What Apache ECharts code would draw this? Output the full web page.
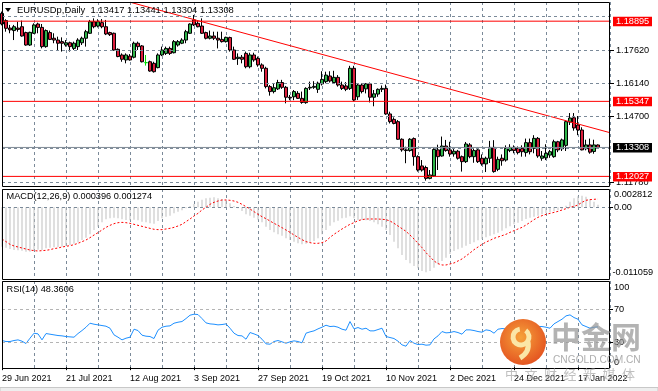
<!DOCTYPE html>
<html><head><meta charset="utf-8">
<script src="https://cdn.jsdelivr.net/npm/echarts@6/dist/echarts.min.js"></script>
<style>html,body{margin:0;padding:0;background:#fff}#c{width:658px;height:391px}</style>
</head><body><div id="c"></div>
<script>
// ---------------- DATA ----------------
const chartTitle = 'EURUSDp,Daily';
const lastQuote = ['1.13417', '1.13441', '1.13304', '1.13308'];
const macdTitle = 'MACD(12,26,9) 0.000396 0.001274';
const rsiTitle = 'RSI(14) 48.3606';
const dateTicks = ['29 Jun 2021','21 Jul 2021','12 Aug 2021','3 Sep 2021','27 Sep 2021','19 Oct 2021','10 Nov 2021','2 Dec 2021','24 Dec 2021','17 Jan 2022'];

const opens = [1.1924,1.1892,1.1859,1.1848,1.1859,1.1865,1.1839,1.1784,1.1836,1.1877,
1.1862,1.1777,1.1839,1.1814,1.1806,1.1799,1.1784,1.1794,1.1769,1.1777,
1.1794,1.1814,1.1836,1.1887,1.1868,1.1883,1.1865,1.1839,1.1836,1.1765,
1.1740,1.1718,1.1735,1.1730,1.1792,1.1780,1.1706,1.1710,1.1703,1.1684,
1.1740,1.1747,1.1769,1.1750,1.1784,1.1792,1.1806,1.1836,1.1895,1.1880,
1.1868,1.1839,1.1814,1.1824,1.1814,1.1809,1.1799,1.1817,1.1762,1.1724,
1.1730,1.1747,1.1688,1.1740,1.1725,1.1696,1.1681,1.1600,1.1578,1.1590,
1.1618,1.1597,1.1553,1.1555,1.1570,1.1548,1.1529,1.1594,1.1597,1.1588,
1.1612,1.1622,1.1647,1.1618,1.1641,1.1607,1.1603,1.1592,1.1681,1.1555,
1.1607,1.1590,1.1612,1.1553,1.1567,1.1588,1.1592,1.1479,1.1455,1.1445,
1.1367,1.1320,1.1317,1.1370,1.1290,1.1249,1.1242,1.1194,1.1205,1.1320,
1.1293,1.1337,1.1320,1.1302,1.1314,1.1290,1.1268,1.1342,1.1290,1.1320,
1.1283,1.1258,1.1283,1.1331,1.1234,1.1283,1.1275,1.1317,1.1331,1.1327,
1.1327,1.1308,1.1352,1.1327,1.1371,1.1283,1.1285,1.1297,1.1290,1.1356,
1.1325,1.1340,1.1443,1.1462,1.1430,1.1408,1.1325,1.1342,1.1313,1.13417];
const closes = [1.1877,1.1858,1.1851,1.1865,1.1853,1.1824,1.1784,1.1840,1.1873,1.1862,
1.1777,1.1848,1.1809,1.1806,1.1792,1.1792,1.1794,1.1777,1.1792,1.1806,
1.1814,1.1843,1.1887,1.1865,1.1887,1.1865,1.1833,1.1830,1.1762,1.1733,
1.1721,1.1740,1.1718,1.1792,1.1777,1.1710,1.1706,1.1669,1.1666,1.1740,
1.1762,1.1769,1.1747,1.1799,1.1799,1.1806,1.1843,1.1877,1.1873,1.1865,
1.1836,1.1814,1.1824,1.1814,1.1806,1.1799,1.1818,1.1762,1.1721,1.1730,
1.1721,1.1688,1.1740,1.1718,1.1696,1.1681,1.1600,1.1578,1.1595,1.1618,
1.1597,1.1553,1.1550,1.1578,1.1548,1.1530,1.1592,1.1597,1.1601,1.1615,
1.1632,1.1651,1.1625,1.1641,1.1607,1.1592,1.1588,1.1681,1.1541,1.1607,
1.1578,1.1612,1.1553,1.1568,1.1588,1.1592,1.1479,1.1445,1.1437,1.1367,
1.1320,1.1317,1.1367,1.1290,1.1231,1.1231,1.1194,1.1209,1.1322,1.1290,
1.1337,1.1317,1.1302,1.1314,1.1283,1.1268,1.1346,1.1290,1.1317,1.1268,
1.1258,1.1283,1.1331,1.1224,1.1278,1.1272,1.1327,1.1331,1.1317,1.1308,
1.1312,1.1352,1.1312,1.1371,1.1293,1.1293,1.1305,1.1312,1.1356,1.1320,
1.1364,1.1445,1.1461,1.1417,1.1408,1.1320,1.1342,1.1310,1.1342,1.13308];
const lows = [1.1871,1.1843,1.1836,1.1806,1.1843,1.1821,1.1781,1.1780,1.1833,1.1836,
1.1769,1.1772,1.1806,1.1792,1.1762,1.1755,1.1777,1.1755,1.1762,1.1762,
1.1784,1.1777,1.1833,1.1858,1.1862,1.1858,1.1828,1.1824,1.1759,1.1730,
1.1710,1.1703,1.1715,1.1725,1.1762,1.1707,1.1693,1.1666,1.1662,1.1681,
1.1735,1.1740,1.1740,1.1747,1.1777,1.1788,1.1792,1.1833,1.1868,1.1862,
1.1833,1.1809,1.1809,1.1806,1.1769,1.1795,1.1795,1.1755,1.1718,1.1696,
1.1703,1.1681,1.1681,1.1710,1.1688,1.1666,1.1592,1.1560,1.1570,1.1585,
1.1590,1.1526,1.1540,1.1540,1.1545,1.1524,1.1524,1.1585,1.1590,1.1572,
1.1605,1.1615,1.1618,1.1614,1.1600,1.1585,1.1580,1.1585,1.1535,1.1541,
1.1570,1.1570,1.1530,1.1513,1.1555,1.1576,1.1475,1.1437,1.1433,1.1364,
1.1312,1.1261,1.1312,1.1250,1.1224,1.1224,1.1184,1.1190,1.1200,1.1231,
1.1290,1.1312,1.1290,1.1290,1.1277,1.1224,1.1262,1.1283,1.1263,1.1262,
1.1250,1.1222,1.1262,1.1219,1.1226,1.1250,1.1268,1.1310,1.1305,1.1300,
1.1290,1.1290,1.1300,1.1305,1.1285,1.1272,1.1275,1.1285,1.1285,1.1310,
1.1315,1.1315,1.1430,1.1405,1.1385,1.1318,1.1318,1.1303,1.1303,1.13304];
const highs = [1.1932,1.1898,1.1873,1.1873,1.1887,1.1892,1.1843,1.1843,1.1880,1.1883,
1.1877,1.1853,1.1848,1.1836,1.1821,1.1818,1.1806,1.1799,1.1799,1.1814,
1.1821,1.1851,1.1895,1.1902,1.1898,1.1899,1.1895,1.1843,1.1839,1.1769,
1.1747,1.1747,1.1744,1.1799,1.1799,1.1784,1.1740,1.1715,1.1710,1.1747,
1.1777,1.1777,1.1777,1.1806,1.1806,1.1814,1.1851,1.1880,1.1917,1.1892,
1.1902,1.1843,1.1848,1.1843,1.1843,1.1843,1.1821,1.1821,1.1777,1.1747,
1.1740,1.1755,1.1750,1.1750,1.1733,1.1703,1.1688,1.1607,1.1614,1.1630,
1.1630,1.1603,1.1563,1.1585,1.1580,1.1578,1.1597,1.1622,1.1624,1.1622,
1.1668,1.1666,1.1668,1.1670,1.1651,1.1622,1.1620,1.1692,1.1692,1.1616,
1.1614,1.1616,1.1618,1.1585,1.1592,1.1605,1.1609,1.1489,1.1464,1.1452,
1.1371,1.1334,1.1372,1.1375,1.1296,1.1275,1.1250,1.1231,1.1327,1.1343,
1.1379,1.1364,1.1356,1.1330,1.1320,1.1295,1.1355,1.1350,1.1326,1.1330,
1.1300,1.1290,1.1360,1.1363,1.1290,1.1300,1.1340,1.1345,1.1340,1.1335,
1.1340,1.1370,1.1370,1.1385,1.1377,1.1315,1.1345,1.1320,1.1365,1.1360,
1.1370,1.1450,1.1483,1.1483,1.1470,1.1420,1.1365,1.1370,1.1365,1.13441];

const macdMain = [-0.00608,-0.00623,-0.00644,-0.00659,-0.00664,-0.00669,-0.00685,-0.00685,-0.00669,-0.00654,
-0.00659,-0.00633,-0.00623,-0.00618,-0.00613,-0.00608,-0.00597,-0.00582,-0.00561,-0.00541,
-0.00505,-0.00469,-0.00418,-0.00351,-0.00299,-0.00233,-0.00186,-0.00171,-0.00161,-0.00171,
-0.00186,-0.00197,-0.00202,-0.00191,-0.00202,-0.00222,-0.00233,-0.00248,-0.00253,-0.00212,
-0.00171,-0.00145,-0.00130,-0.00094,-0.00068,-0.00048,-0.00017,0.00019,0.00050,0.00086,
0.00117,0.00137,0.00148,0.00153,0.00137,0.00127,0.00112,0.00060,0.00019,-0.00017,
-0.00058,-0.00109,-0.00130,-0.00161,-0.00191,-0.00233,-0.00299,-0.00351,-0.00387,-0.00418,
-0.00438,-0.00479,-0.00505,-0.00531,-0.00556,-0.00572,-0.00561,-0.00541,-0.00520,-0.00479,
-0.00418,-0.00351,-0.00284,-0.00233,-0.00207,-0.00171,-0.00161,-0.00140,-0.00171,-0.00197,
-0.00197,-0.00202,-0.00212,-0.00233,-0.00263,-0.00299,-0.00351,-0.00428,-0.00531,-0.00633,
-0.00736,-0.00813,-0.00864,-0.00905,-0.00941,-0.00982,-0.01003,-0.00982,-0.00931,-0.00880,
-0.00828,-0.00777,-0.00721,-0.00674,-0.00649,-0.00623,-0.00592,-0.00567,-0.00541,-0.00510,
-0.00489,-0.00464,-0.00438,-0.00418,-0.00392,-0.00361,-0.00325,-0.00294,-0.00263,-0.00238,
-0.00212,-0.00181,-0.00161,-0.00145,-0.00130,-0.00109,-0.00089,-0.00073,-0.00058,-0.00042,
-0.00027,0.00024,0.00086,0.00137,0.00168,0.00178,0.00163,0.00127,0.00086,0.000396];
const macdSignal = [-0.00489,-0.00530,-0.00572,-0.00597,-0.00613,-0.00628,-0.00644,-0.00659,-0.00669,-0.00674,
-0.00669,-0.00664,-0.00654,-0.00638,-0.00628,-0.00613,-0.00602,-0.00592,-0.00577,-0.00556,
-0.00530,-0.00505,-0.00469,-0.00428,-0.00392,-0.00351,-0.00310,-0.00279,-0.00253,-0.00238,
-0.00233,-0.00238,-0.00248,-0.00263,-0.00279,-0.00294,-0.00310,-0.00325,-0.00340,-0.00345,
-0.00345,-0.00335,-0.00325,-0.00310,-0.00289,-0.00263,-0.00222,-0.00181,-0.00135,-0.00094,
-0.00042,-0.00001,0.00045,0.00076,0.00096,0.00112,0.00112,0.00107,0.00096,0.00076,
0.00045,0.00009,-0.00027,-0.00068,-0.00109,-0.00145,-0.00176,-0.00212,-0.00248,-0.00279,
-0.00315,-0.00351,-0.00387,-0.00428,-0.00464,-0.00500,-0.00530,-0.00546,-0.00556,-0.00556,
-0.00546,-0.00520,-0.00464,-0.00417,-0.00376,-0.00335,-0.00299,-0.00263,-0.00238,-0.00207,
-0.00191,-0.00181,-0.00181,-0.00181,-0.00181,-0.00186,-0.00191,-0.00212,-0.00248,-0.00289,
-0.00330,-0.00371,-0.00428,-0.00489,-0.00556,-0.00623,-0.00700,-0.00762,-0.00828,-0.00869,
-0.00890,-0.00890,-0.00874,-0.00859,-0.00828,-0.00797,-0.00751,-0.00705,-0.00654,-0.00613,
-0.00572,-0.00536,-0.00510,-0.00479,-0.00459,-0.00438,-0.00417,-0.00387,-0.00361,-0.00335,
-0.00310,-0.00274,-0.00233,-0.00191,-0.00155,-0.00130,-0.00109,-0.00094,-0.00079,-0.00063,
-0.00042,-0.00022,-0.00001,0.00014,0.00035,0.00076,0.00107,0.00117,0.00122,0.001274];
const rsiValues = [32.0,30.8,30.8,32.0,32.8,31.2,28.4,34.8,40.8,40.0,
32.8,40.4,39.6,38.8,38.0,37.6,36.8,36.4,36.0,40.4,
44.0,48.0,52.8,51.6,50.8,50.0,49.2,46.8,38.8,36.0,
32.8,34.8,36.0,45.6,44.0,38.4,37.2,36.8,34.4,44.4,
48.0,49.2,49.6,52.8,54.0,54.8,58.4,62.4,63.6,63.2,
58.4,53.2,52.0,51.6,50.8,51.2,52.0,46.8,40.8,38.0,
37.6,33.6,41.6,40.0,38.0,33.6,28.0,27.6,30.8,32.0,
30.4,28.8,30.4,31.6,30.8,29.2,40.8,42.4,43.6,46.0,
48.0,50.4,48.8,49.2,48.0,45.6,44.4,54.8,46.0,47.6,
45.6,46.8,43.6,43.6,45.2,46.8,36.8,35.6,34.4,31.2,
26.8,25.2,32.0,28.8,27.2,27.6,26.4,26.8,34.0,37.6,
42.8,41.2,41.6,42.8,41.6,39.6,44.8,44.8,44.0,42.8,
42.0,44.8,44.0,40.8,45.6,46.4,46.0,44.8,46.8,48.0,
48.8,50.0,50.8,49.6,48.8,48.8,48.0,46.8,52.0,54.8,
57.6,61.6,62.8,59.6,57.6,50.8,48.8,46.8,48.0,48.3606];

const levelLines = [1.18895, 1.15347, 1.12027];
const currentPrice = 1.13308;
const trendLine = [[32, 1.19737], [152, 1.13961]];
const priceGridValues = [1.19100, 1.17620, 1.16140, 1.14700, 1.13260, 1.11780];
const priceTickLabels = ['1.17620', '1.16140', '1.14700', '1.11780'];
const macdRange = [-0.011059, 0.002812];
const macdTickLabels = ['0.002812', '0.00', '-0.011059'];
const rsiLevels = [70, 30];
const rsiTickLabels = ['100', '70', '30', '0'];
const CATEGORY_COUNT = 153;

// ---------------- STYLE ----------------
const FONT = '"Liberation Sans", Arial, sans-serif';
const FS = 9.2;
const GRID_C = '#7b8a99';
const UP = '#2fb54a', DOWN = '#dc1e3c', LIME = '#00e000';
const panels = [{top: 2, height: 184}, {top: 189, height: 90}, {top: 281, height: 87}];
const LEFT = 2, WIDTH = 608;

const cats = Array.from({length: CATEGORY_COUNT}, (_, i) => String(i));
const candleData = opens.map((o, i) => {
  const item = {value: [o, closes[i], lows[i], highs[i]]};
  if (o === closes[i]) item.itemStyle = {color: LIME, color0: LIME, borderColor: LIME, borderColor0: LIME, borderColorDoji: LIME};
  return item;
});
const mlBase = {silent: true, symbol: ['none', 'none'], label: {show: false}, animation: false, precision: 8};
const lastCat = CATEGORY_COUNT - 1;
function hSeries(v, color, z) {
  return {type: 'line', xAxisIndex: 0, yAxisIndex: 0, data: [[0, v], [lastCat, v]], symbol: 'none', silent: true, z,
    color, lineStyle: {color, width: 1, type: 'solid'}};
}

const chart = echarts.init(document.getElementById('c'), null, {renderer: 'canvas'});
const option = {
  animation: false,
  backgroundColor: '#ffffff',
  textStyle: {fontFamily: FONT},
  grid: panels.map(p => ({left: LEFT, width: WIDTH, top: p.top, height: p.height, show: false, containLabel: false, outerBoundsMode: 'none'})),
  xAxis: [0, 1, 2].map(k => ({
    type: 'category', gridIndex: k, data: cats, boundaryGap: false,
    axisLine: {show: false},
    axisTick: {show: k === 2, interval: 15, length: 3, lineStyle: {color: '#000'}},
    axisLabel: {show: k === 2, interval: 15, align: 'left', margin: 6, fontSize: 9, color: '#000', fontFamily: FONT,
      formatter: (v, i) => dateTicks[Math.round(Number(v) / 16)] || ''},
    splitLine: {show: true, interval: 7, lineStyle: {color: GRID_C, type: [3, 3], width: 1}}
  })),
  yAxis: [
    {gridIndex: 0, type: 'value', min: 1.11602, max: 1.19744, show: false, splitLine: {show: false}},
    {gridIndex: 1, type: 'value', min: macdRange[0], max: macdRange[1], show: false, splitLine: {show: false}},
    {gridIndex: 2, type: 'value', min: -1, max: 103.5, show: false, splitLine: {show: false}}
  ],
  series: [
    {type: 'line', xAxisIndex: 0, yAxisIndex: 0, data: [], z: 1, silent: true,
      markLine: Object.assign({}, mlBase, {lineStyle: {color: GRID_C, type: [3, 3], width: 1},
        data: priceGridValues.map(v => ({yAxis: v}))})},
    {type: 'candlestick', xAxisIndex: 0, yAxisIndex: 0, data: candleData, barWidth: 3, z: 2, silent: true,
      itemStyle: {color: UP, color0: DOWN, borderColor: '#000', borderColor0: '#000', borderColorDoji: LIME, borderWidth: 1}},
    hSeries(currentPrice, '#7f8a94', 3),
    ...levelLines.map(v => hSeries(v, '#ff0000', 4)),
    {type: 'line', xAxisIndex: 0, yAxisIndex: 0, data: trendLine, z: 4, silent: true, symbol: 'none',
      color: '#ff0000', lineStyle: {color: '#ff0000', width: 1}},
    {type: 'bar', xAxisIndex: 1, yAxisIndex: 1, data: macdMain, barWidth: 1, silent: true, z: 2,
      itemStyle: {color: '#c0c0c0'},
      markLine: Object.assign({}, mlBase, {lineStyle: {color: GRID_C, type: [3, 3], width: 1}, data: [{yAxis: 0}]})},
    {type: 'line', xAxisIndex: 1, yAxisIndex: 1, data: macdSignal, symbol: 'none', silent: true, z: 3,
      lineStyle: {color: '#ff0000', width: 1, type: [2, 2]}},
    {type: 'line', xAxisIndex: 2, yAxisIndex: 2, data: rsiValues, symbol: 'none', silent: true, z: 3,
      lineStyle: {color: '#1e90ff', width: 1},
      markLine: Object.assign({}, mlBase, {lineStyle: {color: '#b4b4b4', type: [3, 3], width: 1}, data: rsiLevels.map(v => ({yAxis: v}))})}
  ]
};
chart.setOption(option);

// ---------- decorations (frames, right-side scale labels, titles) ----------
const RIGHT = LEFT + WIDTH;
const font = (s) => s + 'px ' + FONT;
const g = [];
function txt(text, x, y, fill, size, extra) {
  g.push(Object.assign({type: 'text', silent: true, z: 50, style: {text, x, y, fill, font: font(size || FS), align: 'left', verticalAlign: 'middle'}}, extra || {}));
}
function hline(x1, x2, y, stroke, z) {
  g.push({type: 'line', silent: true, z: z || 40, shape: {x1, y1: y, x2, y2: y}, style: {stroke, lineWidth: 1}});
}
panels.forEach(p => {
  g.push({type: 'rect', silent: true, z: 30, shape: {x: LEFT + 0.5, y: p.top + 0.5, width: WIDTH - 1, height: p.height}, style: {fill: null, stroke: '#000', lineWidth: 1}});
});
const yPix = (ax, v) => chart.convertToPixel({yAxisIndex: ax}, v);
priceTickLabels.forEach(s => {
  const y = Math.round(yPix(0, Number(s))) + 0.5;
  hline(RIGHT, RIGHT + 4, y, '#000');
  txt(s, RIGHT + 6, y, '#000');
});
function boxLabel(v, bg) {
  const y = yPix(0, v);
  g.push({type: 'rect', silent: true, z: 60, shape: {x: RIGHT + 3, y: y - 4.5, width: 39, height: 9.5}, style: {fill: bg}});
  txt(v.toFixed(5), RIGHT + 6, y + 0.3, '#ffffff', FS, {z: 61});
}
levelLines.forEach(v => boxLabel(v, '#ff0000'));
boxLabel(currentPrice, '#000000');
{
  const p = panels[1];
  const yMax = p.top + 5.5, yMin = p.top + p.height - 7;
  txt(macdTickLabels[0], RIGHT + 4, yMax, '#000');
  const y0 = Math.round(yPix(1, 0)) + 0.5;
  hline(RIGHT, RIGHT + 3, y0, '#000');
  txt(macdTickLabels[1], RIGHT + 4, y0, '#000');
  txt(macdTickLabels[2], RIGHT + 2.5, yMin, '#000');
}
{
  const p = panels[2];
  txt(rsiTickLabels[0], RIGHT + 4, p.top + 6, '#000');
  [70, 30].forEach((v, i) => {
    const y = Math.round(yPix(2, v)) + 0.5;
    hline(RIGHT, RIGHT + 3, y, '#000');
    txt(rsiTickLabels[i + 1], RIGHT + 4, y, '#000');
  });
  txt(rsiTickLabels[3], RIGHT + 4, p.top + p.height - 5.5, '#000');
}
g.push({type: 'polygon', silent: true, z: 50, shape: {points: [[5, 8], [11, 8], [8, 12]]}, style: {fill: '#000'}});
txt(chartTitle + '  ' + lastQuote.join(' '), 17, 10.5, '#000', 9.4);
txt(macdTitle, 6.5, panels[1].top + 7.5, '#000');
txt(rsiTitle, 6.5, panels[2].top + 8.5, '#000');
g.push({type: 'rect', silent: true, z: 30, shape: {x: 0, y: 387.5, width: 658, height: 4}, style: {fill: '#eeeeee', stroke: '#c8c8c8', lineWidth: 1}});
// watermark
g.push({type: 'circle', silent: true, z: 80, shape: {cx: 523, cy: 342, r: 23},
  style: {fill: new echarts.graphic.RadialGradient(0.45, 0.4, 0.75, [{offset: 0, color: '#f6a23a'}, {offset: 1, color: '#e0431b'}])}});
g.push({type: 'arc', silent: true, z: 81, shape: {cx: 521, cy: 337, r: 8, startAngle: -Math.PI * 0.3, endAngle: Math.PI * 1.45}, style: {stroke: '#fbe6a6', lineWidth: 5, fill: null}});
g.push({type: 'bezierCurve', silent: true, z: 81, shape: {x1: 528, y1: 342, x2: 520, y2: 358, cpx1: 530, cpy1: 352}, style: {stroke: '#fbe6a6', lineWidth: 5, fill: null}});
g.push({type: 'text', silent: true, z: 82, style: {text: '中金网', x: 551, y: 337, fill: 'rgba(150,150,150,0.72)', font: 'bold 30px "Noto Sans CJK SC"', align: 'left', verticalAlign: 'middle'}});
txt('CNGOLD.COM.CN', 553, 360, 'rgba(160,160,160,0.85)', 10.2, {z: 82});
g.push({type: 'text', silent: true, z: 82, style: {text: '中\u2002文\u2002财\u2002经\u2002新\u2002媒\u2002体', x: 505, y: 374, fill: 'rgba(170,170,170,0.75)', font: '13px "Noto Sans CJK SC"', align: 'left', verticalAlign: 'middle'}});
chart.setOption({graphic: g});
</script></body></html>
